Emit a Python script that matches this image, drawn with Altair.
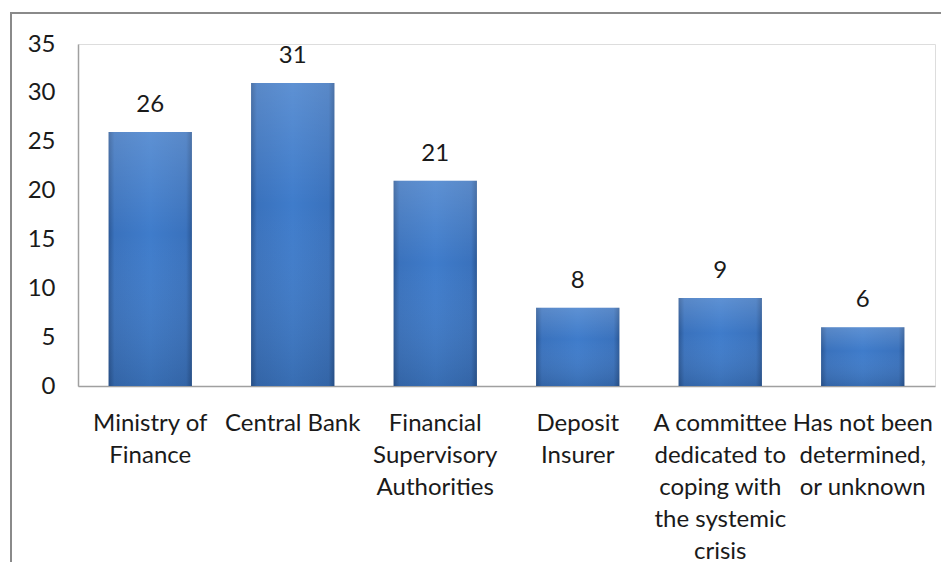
import altair as alt
import pandas as pd

categories = [
    "Ministry of|Finance",
    "Central Bank",
    "Financial|Supervisory|Authorities",
    "Deposit|Insurer",
    "A committee|dedicated to|coping with|the systemic|crisis",
    "Has not been|determined,|or unknown",
]
values = [26, 31, 21, 8, 9, 6]

df = pd.DataFrame({"agency": categories, "count": values})

FONT = "Lato"
FS = 24

x_enc = alt.X(
    "agency:N",
    sort=None,
    title=None,
    scale=alt.Scale(paddingInner=0.415, paddingOuter=0.2145),
    axis=alt.Axis(
        labelAngle=0,
        labelExpr="split(datum.label, '|')",
        labelFont=FONT,
        labelFontSize=FS,
        labelColor="#1a1a1a",
        labelLineHeight=32,
        labelBaseline="top",
        labelPadding=25,
        labelLimit=0,
        labelOverlap=False,
        labelBound=False,
        ticks=False,
        domainColor="#a0a0a0",
        domainWidth=1.5,
        grid=False,
    ),
)

y_enc = alt.Y(
    "count:Q",
    title=None,
    scale=alt.Scale(domain=[0, 35], nice=False),
    axis=alt.Axis(
        values=[0, 5, 10, 15, 20, 25, 30, 35],
        labelFont=FONT,
        labelFontSize=FS,
        labelColor="#1a1a1a",
        labelPadding=23,
        ticks=False,
        domainColor="#a0a0a0",
        domainWidth=1.5,
        grid=False,
    ),
)

frame = pd.DataFrame({"k": [0]})
border_top = alt.Chart(frame).mark_rule(color="#8a8a8a", strokeWidth=2).encode(
    x=alt.value(-67), x2=alt.value(3000), y=alt.value(-31)
)
border_left = alt.Chart(frame).mark_rule(color="#8a8a8a", strokeWidth=2).encode(
    x=alt.value(-67), y=alt.value(-32), y2=alt.value(3000)
)

grad = alt.Gradient(
    gradient="linear",
    x1=0, x2=1, y1=0, y2=0,
    stops=[
        alt.GradientStop(color="#2b5896", offset=0),
        alt.GradientStop(color="#3a72bd", offset=0.07),
        alt.GradientStop(color="#3f7ccb", offset=0.5),
        alt.GradientStop(color="#3a72bd", offset=0.93),
        alt.GradientStop(color="#2b5896", offset=1),
    ],
)

shade = alt.Gradient(
    gradient="linear",
    x1=0, x2=0, y1=0, y2=1,
    stops=[
        alt.GradientStop(color="rgba(255,255,255,0.16)", offset=0),
        alt.GradientStop(color="rgba(255,255,255,0.0)", offset=0.4),
        alt.GradientStop(color="rgba(0,0,0,0.12)", offset=1),
    ],
)

bars = alt.Chart(df).mark_bar(color=grad).encode(x=x_enc, y=y_enc)
bars_shade = alt.Chart(df).mark_bar(color=shade).encode(
    x=alt.X("agency:N", sort=None), y=alt.Y("count:Q")
)

labels = alt.Chart(df).mark_text(
    font=FONT, fontSize=FS, color="#1a1a1a", baseline="middle", dy=-27
).encode(
    x=alt.X("agency:N", sort=None),
    y=alt.Y("count:Q"),
    text=alt.Text("count:Q"),
)

chart = (
    alt.layer(border_top, border_left, bars, bars_shade, labels)
    .properties(
        width=857,
        height=342,
        autosize=alt.AutoSizeParams(type="none"),
        padding={"left": 70, "top": 36, "right": 6, "bottom": 176},
    )
    .configure_view(stroke=None)
    .configure(background="white")
)

chart.save("out.html", embed_options={"renderer": "svg", "actions": False})
